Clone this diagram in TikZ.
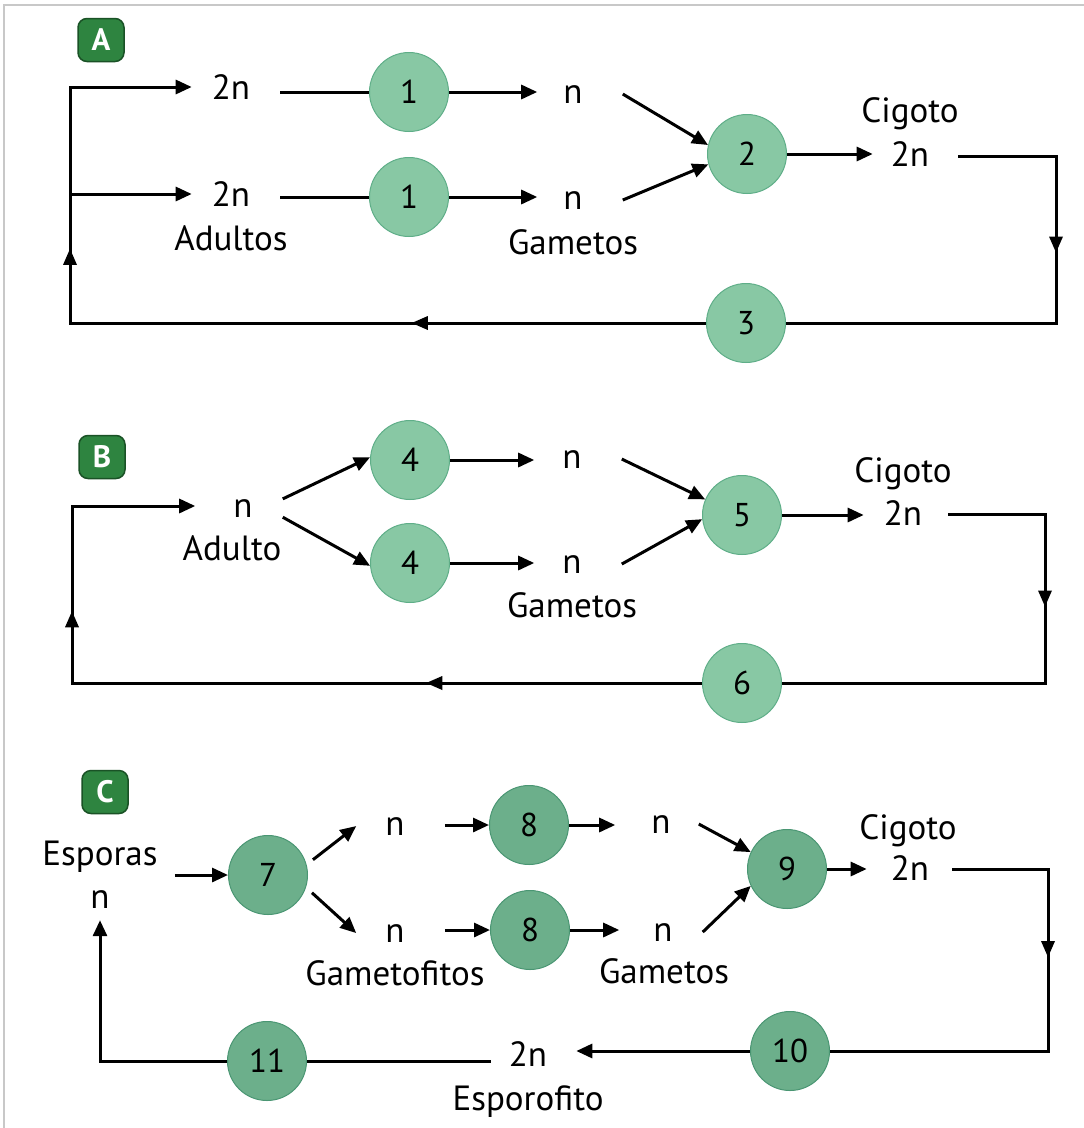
\documentclass[tikz,border=0pt]{standalone}
\usepackage{fontspec}
\setmainfont{PT Sans}
\usetikzlibrary{arrows.meta,decorations.markings}

\definecolor{stageLight}{HTML}{88C8A4}
\definecolor{stageLightEdge}{HTML}{5FAE88}
\definecolor{stageDark}{HTML}{6CAF8B}
\definecolor{stageDarkEdge}{HTML}{4A9673}
\definecolor{badgeFill}{HTML}{2E8440}
\definecolor{badgeEdge}{HTML}{1A5226}
\definecolor{frameGray}{HTML}{C8C8C8}

\begin{document}
\begin{tikzpicture}[x=1pt,y=-1pt,
  lbl/.style={font=\fontsize{35}{37}\selectfont, inner sep=0pt, anchor=base},
  stage/.style={circle, minimum size=79pt, inner sep=0pt, line width=1pt,
                font=\fontsize{33}{35}\selectfont},
  stageA/.style={stage, fill=stageLight, draw=stageLightEdge},
  stageC/.style={stage, fill=stageDark, draw=stageDarkEdge},
  conn/.style={line width=3pt, black},
  arr/.style={conn, -{Triangle[length=16pt,width=14pt]}},
  tipmark/.style={decorate, decoration={markings, mark=at position #1 with
      {\fill[black] (8,0) -- (-8,7) -- (-8,-7) -- cycle;}}},
  badge/.style={rounded corners=9pt, fill=badgeFill, draw=badgeEdge, line width=1.5pt,
                minimum width=46pt, minimum height=43pt, text=white, inner sep=0pt,
                font=\fontsize{31}{31}\selectfont\bfseries}
]
\useasboundingbox (0,0) rectangle (1084,1128);
\fill[white] (0,0) rectangle (1084,1128);
\draw[frameGray, line width=1.5pt] (4,1128) -- (4,5) -- (1084,5);

% ---------------- A ----------------
\node[badge] (badgeA) at (101,40) {A};
\node[lbl] (a2nT) at (231,99) {2n};
\node[stageA] (a1T) at (409,92) {1};
\node[lbl] (anT) at (573,103) {n};
\node[lbl] (a2nB) at (231,206) {2n};
\node[lbl] (aAd) at (231,250) {Adultos};
\node[stageA] (a1B) at (409,197) {1};
\node[lbl] (anB) at (573,209) {n};
\node[lbl] (aGam) at (573,254) {Gametos};
\node[stageA] (a2) at (747,154) {2};
\node[lbl] (aCig) at (910,122) {Cigoto};
\node[lbl] (aZ) at (910,166) {2n};
\node[stageA] (a3) at (746,323) {3};

\coordinate (aTL) at (70,87);
\coordinate (aML) at (70,194);
\coordinate (aBL) at (70,323);
\coordinate (aTR) at (1056,156);
\coordinate (aBR) at (1056,323);

\draw[arr] (a3.west) -- (aBL) -- (aTL) -- ([xshift=-20pt]a2nT.west |- aTL);
\draw[arr] (aML) -- ([xshift=-20pt]a2nB.west |- aML);
\path[tipmark=0.28] (aBL) -- (aTL);
\path[tipmark=0.45] (a3.west) -- (aBL);
\draw[conn] ([xshift=29pt]aZ.east |- aTR) -- (aTR) -- (aBR) -- (a3.east);
\path[tipmark=0.53] (aTR) -- (aBR);

\draw[conn] ([xshift=30pt]a2nT.east |- a1T) -- (a1T.west);
\draw[arr] (a1T) -- ([xshift=-26pt]anT.west |- a1T);
\draw[conn] ([xshift=30pt]a2nB.east |- a1B) -- (a1B.west);
\draw[arr] (a1B) -- ([xshift=-26pt]anB.west |- a1B);
\draw[arr] ([xshift=40pt]anT.east) -- (a2.167);
\draw[arr] ([xshift=40pt]anB.east) -- (a2.195);
\draw[arr] (a2) -- ([xshift=-18pt]aZ.west |- a2);

% ---------------- B ----------------
\node[badge] (badgeB) at (102,457) {B};
\node[lbl] (bn) at (243,517) {n};
\node[lbl] (bAd) at (232,560) {Adulto};
\node[stageA] (b4T) at (410,460) {4};
\node[stageA] (b4B) at (410,563) {4};
\node[lbl] (bnT) at (572,468) {n};
\node[lbl] (bnB) at (572,573) {n};
\node[lbl] (bGam) at (572,617) {Gametos};
\node[stageA] (b5) at (742,515) {5};
\node[lbl] (bCig) at (903,482) {Cigoto};
\node[lbl] (bZ) at (903,525) {2n};
\node[stageA] (b6) at (742,683) {6};

\coordinate (bTL) at (72,506);
\coordinate (bBL) at (72,683);
\coordinate (bTR) at (1045,514);
\coordinate (bBR) at (1045,683);

\draw[arr] (b6.west) -- (bBL) -- (bTL) -- ([xshift=-38pt]bn.west |- bTL);
\path[tipmark=0.425] (b6.west) -- (bBL);
\path[tipmark=0.36] (bBL) -- (bTL);
\draw[conn] ([xshift=26pt]bZ.east |- bTR) -- (bTR) -- (bBR) -- (b6.east);
\path[tipmark=0.50] (bTR) -- (bBR);

\draw[arr] ([xshift=30pt]bn.north east) -- (b4T.176);
\draw[arr] ([xshift=30pt]bn.south east) -- (b4B.184);
\draw[arr] (b4T) -- ([xshift=-28pt]bnT.west |- b4T);
\draw[arr] (b4B) -- ([xshift=-28pt]bnB.west |- b4B);
\draw[arr] ([xshift=40pt]bnT.east) -- (b5.157);
\draw[arr] ([xshift=40pt]bnB.east) -- (b5.186);
\draw[arr] (b5) -- ([xshift=-20pt]bZ.west |- b5);

% ---------------- C ----------------
\node[badge] (badgeC) at (105,792) {C};
\node[lbl] (cEsp) at (100,865) {Esporas};
\node[lbl] (cn) at (100,908) {n};
\node[stageC] (c7) at (268,875) {7};
\node[lbl] (cnT) at (395,835) {n};
\node[lbl] (cnB) at (395,942) {n};
\node[lbl] (cGf) at (395,985) {Gametofitos};
\node[stageC] (c8T) at (529,825) {8};
\node[stageC] (c8B) at (530,930) {8};
\node[lbl] (cn2T) at (661,833) {n};
\node[lbl] (cn2B) at (663,941) {n};
\node[lbl] (cGam) at (664,983) {Gametos};
\node[stageC] (c9) at (787,869) {9};
\node[lbl] (cCig) at (908,839) {Cigoto};
\node[lbl] (cZ) at (910,880) {2n};
\node[stageC] (c10) at (790,1051) {10};
\node[lbl] (cZE) at (528,1066) {2n};
\node[lbl] (cEspo) at (528,1110) {Esporofito};
\node[stageC] (c11) at (267,1061) {11};

\coordinate (cTR) at (1048,869);
\coordinate (cBR) at (1048,1051);

\draw[arr, shorten <=17pt] (cEsp.east |- c7.west) -- (c7.west);
\draw[arr, shorten <=8pt] (c7.15) -- ([xshift=-29pt]cnT.west);
\draw[arr, shorten <=8pt] (c7.-18) -- ([xshift=-29pt]cnB.west);
\draw[arr] ([xshift=40pt]cnT.east |- c8T) -- (c8T.west);
\draw[arr] ([xshift=40pt]cnB.east |- c8B) -- (c8B.west);
\draw[arr] (c8T.east) -- ([xshift=-36pt]cn2T.west |- c8T);
\draw[arr] (c8B.east) -- ([xshift=-34pt]cn2B.west |- c8B);
\draw[arr] ([xshift=28pt]cn2T.east) -- (c9.155);
\draw[arr] ([xshift=30pt]cn2B.east) -- (c9.205);
\draw[arr] (c9) -- ([xshift=-24pt]cZ.west |- c9);

\draw[conn] ([xshift=23pt]cZ.east |- cTR) -- (cTR) -- (cBR) -- (c10.east);
\path[tipmark=0.44] (cTR) -- (cBR);
\draw[arr] (c10.west) -- ([xshift=29pt]cZE.east |- c10);
\draw[conn] ([xshift=-18pt]cZE.west |- c11) -- (c11.east);
\draw[arr] (c11.west) -- (cn.south |- c11.west) -- ([yshift=-12pt]cn.south);
\end{tikzpicture}
\end{document}
